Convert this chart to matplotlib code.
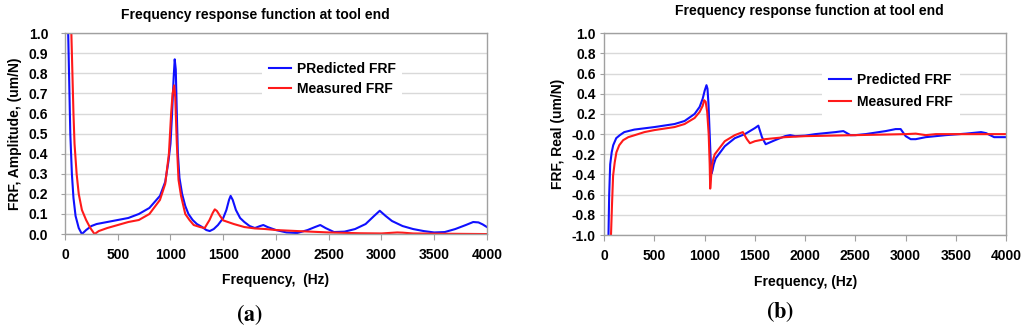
import numpy as np
import matplotlib.pyplot as plt

plt.rcParams['font.family'] = ['Liberation Sans', 'DejaVu Sans']
plt.rcParams['font.weight'] = 'bold'
plt.rcParams['mathtext.fontset'] = 'stix'

# (a) amplitude
amp_pred_f = [30, 40, 50, 65, 80, 100, 130, 160, 200, 250, 300, 400, 500, 600, 700,
              800, 900, 950, 980, 1000, 1015, 1030, 1040, 1050, 1060, 1070, 1085,
              1110, 1140, 1170, 1210, 1250, 1300, 1340, 1372, 1410, 1450, 1500, 1530,
              1555, 1570, 1590, 1620, 1660, 1700, 1750, 1800, 1850, 1880, 1920, 2000,
              2100, 2200, 2300, 2370, 2420, 2470, 2550, 2650, 2750, 2850, 2930, 2984,
              3040, 3100, 3200, 3300, 3400, 3500, 3600, 3700, 3800, 3870, 3920, 3960,
              4000]
amp_pred = [1.0, 0.75, 0.5, 0.3, 0.18, 0.09, 0.03, 0.0, 0.02, 0.04, 0.05, 0.06, 0.07,
            0.08, 0.10, 0.13, 0.19, 0.26, 0.36, 0.45, 0.60, 0.78, 0.87, 0.82, 0.60, 0.40,
            0.28, 0.20, 0.14, 0.10, 0.07, 0.05, 0.035, 0.02, 0.015, 0.025, 0.045, 0.08,
            0.12, 0.17, 0.19, 0.17, 0.12, 0.08, 0.06, 0.04, 0.03, 0.04, 0.045, 0.035,
            0.02, 0.008, 0.005, 0.02, 0.035, 0.045, 0.03, 0.01, 0.012, 0.025, 0.05,
            0.09, 0.116, 0.09, 0.065, 0.04, 0.025, 0.015, 0.008, 0.01, 0.025, 0.045,
            0.06, 0.058, 0.048, 0.035]

amp_meas_f = [60, 70, 80, 90, 110, 130, 160, 200, 240, 280, 320, 400, 500, 600, 700,
              800, 900, 950, 985, 1006, 1020, 1035, 1045, 1060, 1076, 1100, 1140, 1180,
              1220, 1280, 1324, 1370, 1400, 1420, 1440, 1470, 1500, 1600, 1700, 1800,
              1900, 2000, 2200, 2500, 2800, 3000, 3150, 3200, 3300, 3500, 4000]
amp_meas = [1.0, 0.8, 0.6, 0.45, 0.3, 0.2, 0.12, 0.07, 0.03, 0.0, 0.015, 0.03, 0.045,
            0.06, 0.07, 0.10, 0.17, 0.25, 0.40, 0.60, 0.70, 0.74, 0.68, 0.45, 0.27,
            0.19, 0.10, 0.07, 0.045, 0.035, 0.03, 0.07, 0.105, 0.123, 0.115, 0.09,
            0.068, 0.05, 0.035, 0.028, 0.025, 0.02, 0.015, 0.008, 0.004, 0.003, 0.008,
            0.007, 0.003, 0.002, 0.0]

# (b) real part
real_pred_f = [43, 50, 60, 75, 90, 120, 156, 200, 240, 300, 500, 700, 800, 900, 950,
               980, 1000, 1018, 1028, 1038, 1050, 1060, 1068, 1078, 1090, 1110, 1200,
               1300, 1400, 1500, 1534, 1570, 1607, 1700, 1800, 1850, 1900, 2000, 2100,
               2300, 2380, 2450, 2500, 2600, 2800, 2900, 2950, 3000, 3050, 3100, 3200,
               3400, 3600, 3750, 3800, 3880, 4000]
real_pred = [-1.0, -0.6, -0.3, -0.18, -0.11, -0.04, -0.01, 0.02, 0.03, 0.045, 0.07,
             0.10, 0.13, 0.20, 0.27, 0.35, 0.43, 0.485, 0.45, 0.30, 0.0, -0.25, -0.39,
             -0.36, -0.30, -0.24, -0.12, -0.04, 0.0, 0.06, 0.084, -0.03, -0.10, -0.06,
             -0.02, -0.01, -0.02, -0.015, 0.0, 0.02, 0.03, -0.01, -0.01, 0.0, 0.03,
             0.05, 0.05, -0.02, -0.05, -0.05, -0.03, -0.01, 0.005, 0.02, 0.01, -0.03,
             -0.03]

real_meas_f = [68, 78, 89, 105, 122, 150, 189, 240, 305, 400, 500, 700, 800, 900, 950,
               980, 995, 1010, 1025, 1040, 1050, 1055, 1062, 1072, 1085, 1100, 1200,
               1300, 1380, 1420, 1450, 1500, 1600, 1800, 2000, 2500, 3000, 3100, 3200,
               3300, 3700, 4000]
real_meas = [-1.0, -0.7, -0.41, -0.28, -0.18, -0.11, -0.06, -0.03, -0.01, 0.02, 0.04,
             0.07, 0.10, 0.16, 0.22, 0.28, 0.336, 0.32, 0.22, 0.0, -0.3, -0.54, -0.45,
             -0.32, -0.25, -0.20, -0.07, -0.01, 0.02, -0.05, -0.09, -0.07, -0.05,
             -0.03, -0.02, -0.01, 0.0, 0.005, -0.01, 0.0, 0.0, 0.0]

BLUE = '#1010ff'
RED = '#ff1a1a'

fig = plt.figure(figsize=(10.24, 3.32), dpi=100)
ax1 = fig.add_axes([0.0635, 0.295, 0.412, 0.605])
ax2 = fig.add_axes([0.590, 0.292, 0.3926, 0.608])


def style(ax, yticks, ypad):
    ax.set_xlim(0, 4000)
    ax.set_xticks(np.arange(0, 4001, 500))
    ax.set_yticks(yticks)
    ax.grid(axis='y', color='#d9d9d9', lw=1.0)
    ax.set_axisbelow(True)
    for s in ax.spines.values():
        s.set_color('#a0a0a0')
        s.set_linewidth(1.0)
    ax.tick_params(axis='x', direction='out', length=4, color='#a0a0a0',
                   labelsize=10, pad=6)
    ax.tick_params(axis='y', direction='out', length=3, color='#a0a0a0',
                   labelsize=10, pad=ypad)
    for lab in ax.get_xticklabels() + ax.get_yticklabels():
        lab.set_fontweight('bold')


ax1.plot(amp_pred_f, amp_pred, color=BLUE, lw=1.5, label='PRedicted FRF')
ax1.plot(amp_meas_f, amp_meas, color=RED, lw=1.5, label='Measured FRF')
ax1.set_ylim(0, 1.0)
style(ax1, np.arange(0, 1.01, 0.1), 9)
ax1.yaxis.set_major_formatter(plt.FormatStrFormatter('%.1f'))
ax1.set_xlabel('Frequency,  (Hz)', fontsize=10, fontweight='bold', labelpad=8)
ax1.set_ylabel('FRF, Amplitude, (um/N)', fontsize=10, fontweight='bold', labelpad=5)
ax1.legend(loc='upper left', bbox_to_anchor=(0.45, 0.925), frameon=True,
           fancybox=False, edgecolor='none', facecolor='white', framealpha=1,
           prop={'size': 10, 'weight': 'bold'}, handlelength=1.6,
           handletextpad=0.4, labelspacing=0.4, borderpad=0.5)

ax2.plot(real_pred_f, real_pred, color=BLUE, lw=1.5, label='Predicted FRF')
ax2.plot(real_meas_f, real_meas, color=RED, lw=1.5, label='Measured FRF')
ax2.set_ylim(-1.0, 1.0)
style(ax2, np.arange(-1.0, 1.01, 0.2), 3)
ax2.yaxis.set_major_formatter(plt.FormatStrFormatter('%.1f'))
ax2.set_xlabel('Frequency, (Hz)', fontsize=10, fontweight='bold', labelpad=9)
ax2.set_ylabel('FRF, Real (um/N)', fontsize=10, fontweight='bold', labelpad=5)
ax2.legend(loc='upper left', bbox_to_anchor=(0.525, 0.87), frameon=True,
           fancybox=False, edgecolor='none', facecolor='white', framealpha=1,
           prop={'size': 10, 'weight': 'bold'}, handlelength=1.6,
           handletextpad=0.4, labelspacing=0.55, borderpad=0.5)

fig.text(255 / 1024, 1 - 15 / 332, 'Frequency response function at tool end',
         ha='center', va='center', fontsize=10, fontweight='bold')
fig.text(809 / 1024, 1 - 11 / 332, 'Frequency response function at tool end',
         ha='center', va='center', fontsize=10, fontweight='bold')

fig.text(249 / 1024, 1 - 315 / 332, r'$\mathrm{(}\mathbf{a}\mathrm{)}$',
         ha='center', va='center', fontsize=16)
fig.text(780 / 1024, 1 - 312 / 332, r'$\mathrm{(}\mathbf{b}\mathrm{)}$',
         ha='center', va='center', fontsize=16)

fig.savefig('out.png', dpi=100)
